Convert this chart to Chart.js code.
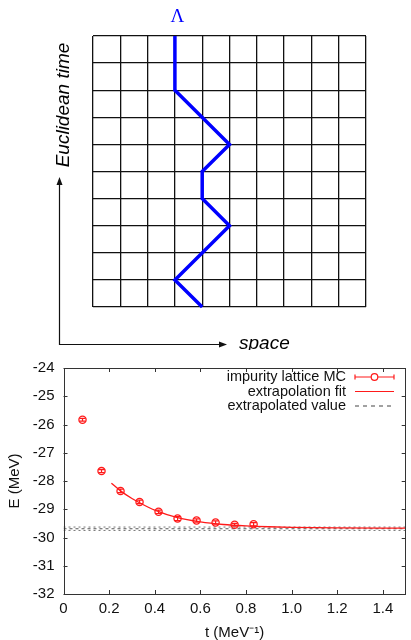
<!DOCTYPE html>
<html>
<head>
<meta charset="utf-8">
<script src="https://cdn.jsdelivr.net/npm/chart.js@4"></script>
<style>
  body { margin: 0; background: #fff; }
  canvas { display: block; }
</style>
</head>
<body>
<canvas id="lattice" width="411" height="350"></canvas>
<canvas id="energy" width="411" height="290"></canvas>
<script>
// worldline of the impurity on the space / time lattice
const pathSpace = [4, 3, 5, 4, 4, 5, 3, 3];
const pathTime = [0, 1, 3, 4, 5, 6, 8, 10];

// impurity lattice MC energies vs euclidean time
const mcTime = [1/12, 2/12, 3/12, 4/12, 5/12, 6/12, 7/12, 8/12, 9/12, 10/12];
const mcEnergy = [-25.83, -27.65, -28.35, -28.74, -29.09, -29.33, -29.40, -29.47, -29.55, -29.53];
const mcError = [0.05, 0.05, 0.06, 0.06, 0.06, 0.07, 0.06, 0.06, 0.05, 0.06];

// extrapolation fit
const fitTime = [0.21, 0.25, 0.3, 0.35, 0.4, 0.5, 0.6, 0.7, 0.8, 0.9, 1.0, 1.2, 1.5];
const fitEnergy = [-28.08, -28.35, -28.62, -28.84, -29.03, -29.30, -29.45, -29.54, -29.59, -29.62, -29.64, -29.66, -29.67];

const extrapValue = -29.69;
const extrapError = 0.06;

// axis tick labels
const tTicks = [0, 0.2, 0.4, 0.6, 0.8, 1, 1.2, 1.4];
const eTicks = [-32, -31, -30, -29, -28, -27, -26, -25, -24];

const RED = '#ff1a1a';
const FONT = 'Liberation Sans';

//================================ LATTICE ================================

function zeroSize(scale) {
    if (scale.isHorizontal()) scale.height = 0; else scale.width = 0;
}

const latticeDecor = {
    id: 'latticeDecor',
    afterDraw(chart) {
        const c = chart.ctx;
        const sx = chart.scales.x;
        c.save();
        // Lambda label above the start of the worldline
        c.fillStyle = '#0000ff';
        c.font = '19px "Liberation Serif"';
        c.textAlign = 'center';
        c.textBaseline = 'middle';
        c.fillText('Λ', sx.getPixelForValue(3) + 2.5, 17);

        // axis arrows
        c.strokeStyle = '#111';
        c.fillStyle = '#111';
        c.lineWidth = 1.2;
        c.beginPath();
        c.moveTo(59.5, 180);
        c.lineTo(59.5, 344.5);
        c.lineTo(222, 344.5);
        c.stroke();
        c.beginPath();
        c.moveTo(59.5, 177);
        c.lineTo(56.5, 185);
        c.lineTo(62.5, 185);
        c.closePath();
        c.fill();
        c.beginPath();
        c.moveTo(227, 344.5);
        c.lineTo(219, 341.5);
        c.lineTo(219, 347.5);
        c.closePath();
        c.fill();

        c.fillStyle = '#000';
        c.font = 'italic 19px "' + FONT + '"';
        c.textAlign = 'left';
        c.textBaseline = 'alphabetic';
        c.fillText('space', 239, 349);
        c.translate(69, 105);
        c.rotate(-Math.PI / 2);
        c.textAlign = 'center';
        c.fillText('Euclidean time', 0, 0);
        c.restore();
    }
};

const latticeScale = {
    type: 'linear',
    min: 0,
    max: 10,
    ticks: { display: false, stepSize: 1 },
    grid: { color: '#111', lineWidth: 1.3, drawTicks: false },
    border: { display: false },
    afterFit: zeroSize
};

new Chart(document.getElementById('lattice'), {
    type: 'scatter',
    data: {
        datasets: [{
            data: pathSpace.map((s, i) => ({ x: s, y: pathTime[i] })),
            showLine: true,
            borderColor: '#0000ff',
            borderWidth: 3.5,
            pointRadius: 0,
            clip: false
        }]
    },
    options: {
        responsive: false,
        animation: false,
        layout: { padding: { left: 93, right: 45, top: 36, bottom: 43 } },
        plugins: { legend: { display: false }, tooltip: { enabled: false } },
        scales: { x: latticeScale, y: latticeScale }
    },
    plugins: [latticeDecor]
});

//================================ ENERGY PLOT ================================

const energyDecor = {
    id: 'energyDecor',
    beforeDatasetsDraw(chart) {
        // error bars of the MC points
        const c = chart.ctx;
        const { x: sx, y: sy } = chart.scales;
        c.save();
        c.strokeStyle = RED;
        c.lineWidth = 1.2;
        mcTime.forEach((t, i) => {
            const px = sx.getPixelForValue(t);
            const lo = sy.getPixelForValue(mcEnergy[i] - mcError[i]);
            const hi = sy.getPixelForValue(mcEnergy[i] + mcError[i]);
            c.beginPath();
            c.moveTo(px, lo); c.lineTo(px, hi);
            c.moveTo(px - 3, lo); c.lineTo(px + 3, lo);
            c.moveTo(px - 3, hi); c.lineTo(px + 3, hi);
            c.stroke();
        });
        c.restore();
    },
    afterDraw(chart) {
        const c = chart.ctx;
        const a = chart.chartArea;
        const { x: sx, y: sy } = chart.scales;
        c.save();
        c.strokeStyle = '#333';
        c.lineWidth = 1;
        c.strokeRect(Math.round(a.left) + 0.5, Math.round(a.top) + 0.5,
            Math.round(a.right - a.left) - 1, Math.round(a.bottom - a.top));

        // inward tick marks on all four sides
        c.beginPath();
        sx.ticks.forEach(t => {
            const px = Math.round(sx.getPixelForValue(t.value)) + 0.5;
            c.moveTo(px, a.bottom); c.lineTo(px, a.bottom - 4);
            c.moveTo(px, a.top); c.lineTo(px, a.top + 4);
        });
        sy.ticks.forEach(t => {
            const py = Math.round(sy.getPixelForValue(t.value)) + 0.5;
            c.moveTo(a.left, py); c.lineTo(a.left + 4, py);
            c.moveTo(a.right, py); c.lineTo(a.right - 4, py);
        });
        c.stroke();

        // legend, gnuplot style: text right aligned, sample on the right
        const rows = ['impurity lattice MC', 'extrapolation fit', 'extrapolated value'];
        const rowY = [27, 41.5, 56];
        c.font = '14.5px "' + FONT + '"';
        c.fillStyle = '#111';
        c.textAlign = 'right';
        c.textBaseline = 'middle';
        rows.forEach((r, i) => c.fillText(r, 346, rowY[i]));

        c.strokeStyle = RED;
        c.lineWidth = 1.2;
        c.beginPath();
        c.moveTo(355, rowY[0]); c.lineTo(394, rowY[0]);
        c.moveTo(355, rowY[0] - 2.5); c.lineTo(355, rowY[0] + 2.5);
        c.moveTo(394, rowY[0] - 2.5); c.lineTo(394, rowY[0] + 2.5);
        c.stroke();
        c.fillStyle = '#fff';
        c.beginPath();
        c.arc(374.5, rowY[0], 3.3, 0, Math.PI * 2);
        c.fill();
        c.stroke();
        c.beginPath();
        c.moveTo(355, rowY[1]); c.lineTo(394, rowY[1]);
        c.stroke();
        c.strokeStyle = '#444';
        c.setLineDash([4, 4]);
        c.beginPath();
        c.moveTo(355, rowY[2]); c.lineTo(394, rowY[2]);
        c.stroke();
        c.restore();
    }
};

function flat(value, color, dash, width) {
    return {
        data: [{ x: 0, y: value }, { x: 1.5, y: value }],
        showLine: true,
        borderColor: color,
        borderWidth: width,
        borderDash: dash,
        pointRadius: 0
    };
}

const tickFont = { family: FONT, size: 15 };
const titleFont = { family: FONT, size: 15, lineHeight: 1 };

new Chart(document.getElementById('energy'), {
    type: 'scatter',
    data: {
        datasets: [
            {
                data: mcTime.map((t, i) => ({ x: t, y: mcEnergy[i] })),
                pointStyle: 'circle',
                pointRadius: 3.6,
                borderColor: RED,
                backgroundColor: 'rgba(0,0,0,0)',
                pointBorderWidth: 1.3
            },
            {
                data: fitTime.map((t, i) => ({ x: t, y: fitEnergy[i] })),
                showLine: true,
                borderColor: RED,
                borderWidth: 1.3,
                pointRadius: 0,
                cubicInterpolationMode: 'monotone'
            },
            flat(extrapValue, '#555', [3, 3], 1.2),
            flat(extrapValue + extrapError, '#777', [2, 3], 1),
            flat(extrapValue - extrapError, '#777', [2, 3], 1)
        ]
    },
    options: {
        responsive: false,
        animation: false,
        layout: { padding: { left: 0, right: 5, top: 15, bottom: 0 } },
        plugins: { legend: { display: false }, tooltip: { enabled: false } },
        scales: {
            x: {
                type: 'linear',
                min: 0,
                max: 1.5,
                afterBuildTicks: s => { s.ticks = tTicks.map(v => ({ value: v })); },
                afterFit: s => { s.height = 46; },
                ticks: { padding: 6, color: '#111', font: tickFont },
                grid: { display: false, drawTicks: false },
                border: { display: false },
                title: { display: true, text: 't (MeV⁻¹)', color: '#111', padding: 0, font: titleFont }
            },
            y: {
                type: 'linear',
                min: -32,
                max: -24,
                afterBuildTicks: s => { s.ticks = eTicks.map(v => ({ value: v })); },
                afterFit: s => { s.width = 63.5; },
                ticks: { padding: 9, color: '#111', font: tickFont },
                grid: { display: false, drawTicks: false },
                border: { display: false },
                title: { display: true, text: 'E (MeV)', color: '#111', padding: { top: 7, bottom: 0 }, font: titleFont }
            }
        }
    },
    plugins: [energyDecor]
});
</script>
</body>
</html>
